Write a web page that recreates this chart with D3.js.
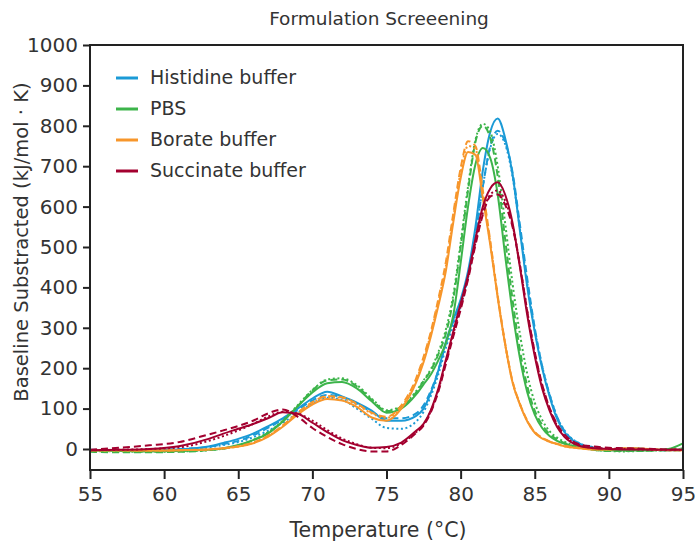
<!DOCTYPE html>
<html><head><meta charset="utf-8">
<script src="https://cdn.jsdelivr.net/npm/d3@7"></script>
<style>html,body{margin:0;padding:0;background:#fff;}svg{display:block;font-family:"DejaVu Sans",sans-serif;}</style>
</head><body>
<svg id="chart" width="695" height="541"></svg>
<script>
const temps = [55,57,59,61,63,64,65,66,67,68,69,70,71,72,73,74,75,76,77,77.5,78,78.5,79,79.5,80,80.5,81,81.5,82,82.5,83,83.5,84,84.5,85,85.5,86,86.5,87,88,89,90,91,92,93,94,95];

const histidineSolid  = [-2,-3,-3,-1,6,15,25,38,56,76,100,125,142,130,115,95,70,70,82,100,140,195,265,320,370,440,550,690,785,818,770,680,540,400,290,200,130,75,42,12,3,-2,0,1,-2,-3,-2];
const histidineDashed = [-4,-4,-3,0,5,12,20,34,52,73,96,120,134,128,112,92,76,76,88,108,145,195,260,315,365,430,530,650,750,788,760,685,555,420,300,205,135,80,45,14,4,-1,1,1,-2,-3,-3];
const histidineDotted = [-3,-3,-3,-1,4,10,17,29,45,65,88,112,127,122,100,75,52,50,68,92,132,185,250,305,355,425,525,650,745,780,755,675,545,410,295,205,135,80,46,14,4,-1,-1,0,-2,-3,-3];

const pbsSolid  = [-4,-5,-6,-5,-2,2,10,22,38,68,105,140,163,166,150,118,90,100,135,160,185,220,262,330,460,600,705,745,720,630,480,340,225,140,85,52,32,20,13,4,-2,-4,-4,-4,-3,0,14];
const pbsDashed = [-7,-8,-8,-7,-3,1,8,22,40,68,106,145,170,172,155,122,94,104,140,168,195,235,285,370,500,640,760,800,770,675,520,370,245,155,95,60,37,24,15,5,-2,-5,-5,-5,-4,-3,2];
const pbsDotted = [-5,-6,-7,-6,-3,1,8,22,41,70,108,146,172,175,158,125,96,106,143,170,198,240,295,380,510,650,765,805,785,700,560,410,285,185,115,72,44,28,18,6,-2,-5,-6,-5,-4,-3,0];

const borateSolid  = [-3,-3,-4,-3,-1,2,6,14,30,55,85,110,124,120,104,78,70,100,165,215,280,355,440,560,670,735,728,620,505,375,260,165,110,68,40,26,18,12,7,2,-1,-1,1,1,-1,-3,-3];
const borateDashed = [-3,-3,-4,-3,-1,2,7,16,33,58,90,116,131,128,112,90,80,108,175,228,292,372,462,582,695,762,750,640,515,380,262,168,112,70,42,28,19,13,8,3,0,-1,1,1,-1,-3,-3];
const borateDotted = [-4,-4,-4,-3,-1,2,6,15,32,57,88,114,129,126,110,88,77,104,170,222,287,366,452,572,685,750,742,632,510,378,260,166,111,69,41,27,18,12,7,2,-1,-1,1,1,-1,-3,-3];

const succinateSolid  = [-3,-2,0,7,25,38,50,62,76,91,87,65,42,22,10,3,5,16,45,62,97,150,220,290,360,430,520,600,645,660,630,560,450,330,230,150,95,55,30,8,2,0,-1,-1,-2,-2,-2];
const succinateDashed = [-2,3,9,17,36,46,57,70,88,98,80,52,30,12,0,-6,-6,10,40,58,92,142,210,278,345,420,505,580,625,630,605,550,455,340,240,160,102,62,36,12,6,3,2,1,0,-1,-1];
const succinateDotted = [-3,-2,0,4,20,32,46,62,80,92,88,70,47,26,12,3,2,14,42,60,95,146,215,284,352,425,510,585,630,640,615,555,455,340,238,158,100,58,33,10,3,1,0,-1,-2,-2,-2];

const seriesNames = ["Histidine buffer","PBS","Borate buffer","Succinate buffer"];
const seriesColors = ["#1b9ad6","#3cb44a","#f7962b","#a3002f"];
const xTicks = [55,60,65,70,75,80,85,90,95];
const yTicks = [0,100,200,300,400,500,600,700,800,900,1000];

const groups = [
  {name: seriesNames[0], color: seriesColors[0], runs: [histidineSolid, histidineDashed, histidineDotted]},
  {name: seriesNames[1], color: seriesColors[1], runs: [pbsSolid, pbsDashed, pbsDotted]},
  {name: seriesNames[2], color: seriesColors[2], runs: [borateSolid, borateDashed, borateDotted]},
  {name: seriesNames[3], color: seriesColors[3], runs: [succinateSolid, succinateDashed, succinateDotted]}
];
const dashes = [null, "7,4", "2,2.6"];

const svg = d3.select("#chart");
const L = 90, R = 683, T = 45, B = 470;
const x = d3.scaleLinear().domain([55,95]).range([L,R]);
const y = d3.scaleLinear().domain([-52,1000]).range([B,T]);

const plot = svg.append("g");
const line = d3.line().x((d,i)=>x(temps[i])).y(d=>y(d)).curve(d3.curveMonotoneX);

groups.forEach(g=>{
  g.runs.forEach((vals,k)=>{
    plot.append("path").datum(vals)
      .attr("d", line)
      .attr("fill","none")
      .attr("stroke", g.color)
      .attr("stroke-width", 2)
      .attr("stroke-dasharray", dashes[k]);
  });
});

// frame
svg.append("rect").attr("x",L).attr("y",T).attr("width",R-L).attr("height",B-T)
  .attr("fill","none").attr("stroke","#222").attr("stroke-width",2);

// axes
const xAxis = d3.axisBottom(x).tickValues(xTicks).tickSize(9).tickPadding(8).tickFormat(d3.format("d"));
const gx = svg.append("g").attr("transform",`translate(0,${B})`).call(xAxis);
gx.select(".domain").remove();
gx.selectAll(".tick line").attr("stroke","#222").attr("stroke-width",2);
gx.selectAll(".tick text").attr("font-size",20).attr("fill","#333").attr("font-family","DejaVu Sans");

const yAxis = d3.axisLeft(y).tickValues(yTicks).tickSize(7).tickPadding(5).tickFormat(d3.format("d"));
const gy = svg.append("g").attr("transform",`translate(${L},0)`).call(yAxis);
gy.select(".domain").remove();
gy.selectAll(".tick line").attr("stroke","#222").attr("stroke-width",2);
gy.selectAll(".tick text").attr("font-size",20).attr("fill","#333").attr("font-family","DejaVu Sans");

// titles
svg.append("text").attr("x",379).attr("y",25).attr("text-anchor","middle")
  .attr("font-size",18.5).attr("fill","#333").text("Formulation Screeening");
svg.append("text").attr("x",378).attr("y",537).attr("text-anchor","middle")
  .attr("font-size",20.5).attr("fill","#333").text("Temperature (°C)");
svg.append("text").attr("transform","translate(28,242) rotate(-90)").attr("text-anchor","middle")
  .attr("font-size",19.5).attr("fill","#333").text("Baseline Substracted (kJ/mol · K)");

// legend
const lg = svg.append("g");
groups.forEach((g,i)=>{
  const yy = 78 + i*31;
  lg.append("line").attr("x1",116).attr("x2",138).attr("y1",yy).attr("y2",yy)
    .attr("stroke",g.color).attr("stroke-width",3);
  lg.append("text").attr("x",150).attr("y",yy+6).attr("font-size",19).attr("fill","#333").text(g.name);
});
</script>
</body></html>
